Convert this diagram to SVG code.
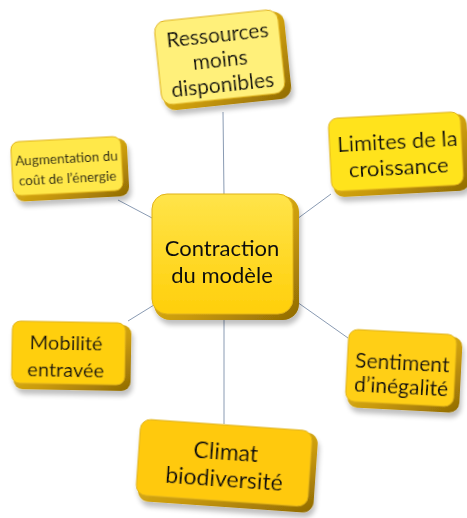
<svg xmlns="http://www.w3.org/2000/svg" width="467" height="518" viewBox="0 0 467 518">
<defs>
<linearGradient id="edge" x1="0" y1="0" x2="1" y2="1">
<stop offset="0" stop-color="#f3d23a"/>
<stop offset="0.6" stop-color="#c99a0a"/>
<stop offset="1" stop-color="#8f6a05"/>
</linearGradient>
<linearGradient id="gC" x1="0" y1="0" x2="0" y2="1">
<stop offset="0" stop-color="#ffe44a"/>
<stop offset="1" stop-color="#ffcf0a"/>
</linearGradient>
<filter id="sh" x="-20%" y="-20%" width="140%" height="150%">
<feGaussianBlur in="SourceAlpha" stdDeviation="2.5"/>
<feOffset dx="2" dy="5" result="b"/>
<feComponentTransfer><feFuncA type="linear" slope="0.25"/></feComponentTransfer>
<feMerge><feMergeNode/><feMergeNode in="SourceGraphic"/></feMerge>
</filter>
</defs>
<style>
.edge{fill:url(#edge);}
.face{stroke:#e0b21a;stroke-width:1;}
.t{font-family:Lato,"Open Sans",sans-serif;fill:#111111;text-anchor:middle;}
.c{stroke:#8a9bb3;stroke-width:1;fill:none;}
</style>
<rect width="467" height="518" fill="#ffffff"/>
<g id="connectors">
<line class="c" x1="223" y1="112" x2="224" y2="196"/>
<line class="c" x1="118" y1="200" x2="154" y2="219"/>
<line class="c" x1="297" y1="219" x2="331" y2="194"/>
<line class="c" x1="128" y1="321" x2="154" y2="305"/>
<line class="c" x1="297" y1="302" x2="348" y2="338"/>
<line class="c" x1="224" y1="318" x2="224" y2="424"/>
</g>
<g id="node-ressources" filter="url(#sh)" transform="rotate(-6 222 60)">
<rect class="edge" x="160" y="17" width="128" height="88" rx="12"/>
<rect class="face" x="158" y="15" width="124" height="84" rx="11" fill="#fff07a"/>
<text class="t" font-size="21" x="220" y="42">Ressources</text>
<text class="t" font-size="21" x="220" y="67">moins</text>
<text class="t" font-size="21" x="220" y="92">disponibles</text>
</g>
<g id="node-augmentation" filter="url(#sh)" transform="rotate(-3 69 168)">
<rect class="edge" x="14" y="141" width="114" height="58" rx="9"/>
<rect class="face" x="12" y="139" width="110" height="54" rx="8" fill="#ffe84a"/>
<text class="t" font-size="13.5" x="67" y="163">Augmentation du</text>
<text class="t" font-size="13.5" x="67" y="183">coût de l’énergie</text>
</g>
<g id="node-limites" filter="url(#sh)" transform="rotate(-3 398 153)">
<rect class="edge" x="332" y="117" width="136" height="77" rx="10"/>
<rect class="face" x="330" y="115" width="132" height="73" rx="9" fill="#ffe31e"/>
<text class="t" font-size="22" x="398" y="149">Limites de la</text>
<text class="t" font-size="22" x="398" y="175">croissance</text>
</g>
<g id="node-centre" filter="url(#sh)">
<rect class="edge" x="154" y="196" width="145" height="124" rx="16"/>
<rect class="face" x="152" y="194" width="141" height="120" rx="15" fill="url(#gC)"/>
<text class="t" font-size="22" x="222" y="256">Contraction</text>
<text class="t" font-size="22" x="222" y="283">du modèle</text>
</g>
<g id="node-mobilite" filter="url(#sh)" transform="rotate(1 70 355)">
<rect class="edge" x="14" y="324" width="117" height="66" rx="9"/>
<rect class="face" x="12" y="322" width="113" height="62" rx="8" fill="#ffcf10"/>
<text class="t" font-size="20" x="66" y="350">Mobilité</text>
<text class="t" font-size="20" x="66" y="377">entravée</text>
</g>
<g id="node-sentiment" filter="url(#sh)" transform="rotate(3 402 370)">
<rect class="edge" x="349" y="334" width="112" height="76" rx="10"/>
<rect class="face" x="347" y="332" width="108" height="72" rx="9" fill="#ffcf18"/>
<text class="t" font-size="21" x="402" y="370">Sentiment</text>
<text class="t" font-size="21" x="402" y="394">d’inégalité</text>
</g>
<g id="node-climat" filter="url(#sh)" transform="rotate(4 226 465)">
<rect class="edge" x="140" y="427" width="176" height="80" rx="11"/>
<rect class="face" x="138" y="425" width="172" height="76" rx="10" fill="#ffc90a"/>
<text class="t" font-size="23" x="225" y="460">Climat</text>
<text class="t" font-size="23" x="225" y="487">biodiversité</text>
</g>
</svg>
